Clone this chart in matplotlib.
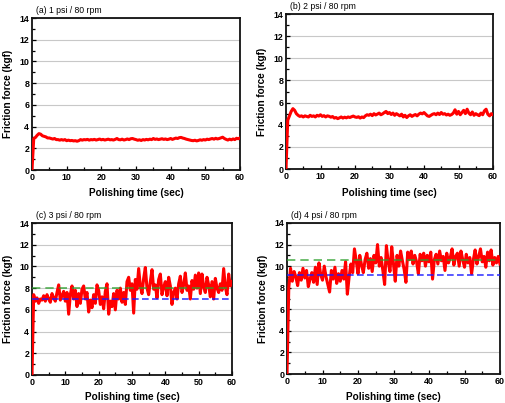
import numpy as np
import matplotlib
matplotlib.use("Agg")
import matplotlib.pyplot as plt
from matplotlib.ticker import MultipleLocator

plt.rcParams['font.family'] = ['Liberation Sans', 'DejaVu Sans']

titles = ["(a) 1 psi / 80 rpm", "(b) 2 psi / 80 rpm", "(c) 3 psi / 80 rpm", "(d) 4 psi / 80 rpm"]
xlabel = "Polishing time (sec)"
ylabel = "Friction force (kgf)"

force_a = [0, 2.9, 3.0, 3.2, 3.35, 3.3, 3.15, 3.1, 3.05, 2.95, 2.95, 2.9, 2.85, 2.9, 2.8, 2.8, 2.75, 2.8, 2.75, 2.8,
           2.7, 2.75, 2.7, 2.72, 2.68, 2.7, 2.65, 2.7, 2.8, 2.75, 2.8, 2.78, 2.82, 2.75, 2.8, 2.78, 2.82, 2.76, 2.8, 2.85,
           2.78, 2.82, 2.76, 2.8, 2.84, 2.78, 2.8, 2.76, 2.82, 2.9, 2.8, 2.78, 2.84, 2.76, 2.8, 2.86, 2.8, 2.88, 2.9, 2.84,
           2.8, 2.74, 2.78, 2.72, 2.8, 2.76, 2.82, 2.78, 2.84, 2.8, 2.9, 2.82, 2.86, 2.8, 2.84, 2.88, 2.82, 2.86, 2.8, 2.84,
           2.9, 2.82, 2.88, 2.94, 2.9, 2.98, 3.0, 2.94, 2.9, 2.84, 2.8, 2.76, 2.72, 2.7, 2.74, 2.68, 2.72, 2.78, 2.74, 2.8,
           2.76, 2.84, 2.8, 2.86, 2.9, 2.84, 2.92, 2.86, 2.9, 2.96, 3.02, 2.9, 2.82, 2.76, 2.84, 2.78, 2.86, 2.8, 2.92, 2.88,
           2.95]

force_b = [0, 4.4, 4.8, 5.2, 5.45, 5.3, 5.0, 4.85, 4.75, 4.8, 4.7, 4.8, 4.75, 4.7, 4.85, 4.75, 4.8, 4.7, 4.85, 4.78,
           4.9, 4.75, 4.82, 4.7, 4.8, 4.76, 4.68, 4.74, 4.6, 4.65, 4.55, 4.62, 4.7, 4.6, 4.68, 4.62, 4.7, 4.65, 4.72, 4.78,
           4.7, 4.66, 4.72, 4.6, 4.7, 4.64, 4.8, 4.9, 4.85, 4.95, 4.82, 5.0, 4.88, 4.96, 5.05, 4.9, 4.98, 5.1, 5.2, 5.0,
           5.1, 4.92, 5.05, 4.85, 5.0, 4.9, 4.8, 4.95, 4.7, 4.85, 4.65, 4.8, 4.9, 4.75, 4.85, 4.92, 4.8, 4.95, 5.05, 4.98,
           5.1, 4.95, 4.8, 4.75, 4.85, 4.95, 5.0, 4.9, 5.05, 4.92, 5.1, 4.95, 5.0, 4.88, 4.95, 4.85, 4.92, 5.05, 5.35, 4.95,
           5.2, 4.9, 5.1, 5.3, 5.0, 5.4, 5.05, 4.9, 5.15, 4.85, 5.0, 4.9, 4.82, 5.05, 4.9, 5.25, 5.4, 4.95, 4.8, 5.0,
           4.9]

force_c = [0, 7.4, 6.8, 7.1, 6.6, 7.0, 6.9, 7.3, 6.8, 7.4, 7.0, 6.7, 7.5, 7.1, 6.8, 7.6, 8.3, 6.9, 7.3, 7.7,
           6.8, 7.6, 5.6, 7.4, 8.2, 7.0, 7.8, 6.3, 7.5, 6.6, 7.9, 8.2, 7.0, 7.6, 5.8, 6.9, 6.2, 7.4, 6.6, 8.3,
           7.8, 6.5, 7.2, 6.1, 7.7, 8.4, 5.6, 6.8, 6.3, 7.5, 6.0, 7.8, 7.0, 8.0, 6.7, 7.6, 6.5, 8.6, 9.0, 7.8,
           8.4, 5.7, 8.8, 7.9, 9.8, 8.2, 7.5, 8.9, 9.9, 8.0, 7.4, 8.6, 9.7, 7.9, 8.3, 7.1, 8.8, 9.3, 7.4, 8.1,
           8.6, 7.3, 9.0, 8.2, 6.5, 7.6, 8.0, 7.0, 8.4, 9.1, 7.6, 8.3, 9.4, 7.8, 8.2, 7.0, 8.7, 7.9, 9.2, 8.0,
           9.4, 7.5, 9.3, 8.1, 7.6, 9.0, 8.3, 7.2, 8.6, 7.0, 8.9, 8.0, 7.6, 8.4, 7.8, 9.8, 8.1, 7.4, 9.3, 8.2,
           8.6]

force_d = [0, 8.0, 9.8, 8.6, 9.5, 9.0, 8.2, 9.4, 8.7, 9.8, 8.9, 9.6, 8.1, 8.8, 9.4, 8.5, 9.9, 8.3, 10.3, 9.2,
           8.7, 10.0, 9.0, 8.3, 7.6, 9.6, 8.8, 9.9, 8.4, 9.3, 8.6, 9.6, 8.8, 10.4, 7.4, 9.0, 10.2, 9.4, 11.6, 10.5,
           9.3, 11.0, 10.1, 9.4, 10.6, 11.2, 9.8, 10.7, 9.5, 11.0, 10.3, 12.0, 10.0, 10.8, 9.6, 8.3, 11.9, 10.4, 9.5, 11.8,
           10.2, 8.6, 11.0, 10.0, 11.4, 10.5, 9.7, 8.5, 11.3, 10.6, 11.4, 10.2, 11.0, 10.4, 9.3, 11.1, 10.5, 11.2, 10.0, 11.0,
           10.4, 11.3, 8.8, 10.6, 11.1, 10.2, 11.4, 10.5, 10.9, 9.6, 11.2, 10.3, 10.8, 11.6, 10.1, 10.9, 11.2, 10.0, 11.4, 10.6,
           9.9, 11.1, 10.3, 10.8, 9.3, 10.6, 11.5, 10.2, 10.9, 11.6, 10.4, 10.9, 9.9, 11.3, 10.5, 11.5, 10.1, 10.8, 10.3, 10.9,
           10.2]

series = [force_a, force_b, force_c, force_d]
upper_ref = [None, None, 8.0, 10.6]
lower_ref = [None, None, 7.0, 9.2]

W, H = 505, 403
boxes_px = [(32, 18, 240, 170), (286, 14, 493, 169), (32, 223, 232, 375), (287, 223, 500, 374)]
ylab_x = [8, 262, 8, 263]
xlab_y = [193, 193, 397, 397]

fig = plt.figure(figsize=(W / 100, H / 100), dpi=100)
for i, (l, t, r, b) in enumerate(boxes_px):
    ax = fig.add_axes([l / W, 1 - b / H, (r - l) / W, (b - t) / H])
    y = np.array(series[i])
    x = np.linspace(0, 60, len(y))
    ax.plot(x, y, color='#ff0000', lw=2.2, zorder=3)
    if upper_ref[i] is not None:
        ax.plot([0, 60], [upper_ref[i]] * 2, color='#2ca02c', lw=1.2, ls=(0, (5, 3)), alpha=0.8, zorder=4)
        ax.plot([0, 60], [lower_ref[i]] * 2, color='#1a1aff', lw=1.2, ls=(0, (4, 2)), alpha=0.85, zorder=4)
    ax.set_xlim(0, 60)
    ax.set_ylim(0, 14)
    ax.xaxis.set_major_locator(MultipleLocator(10))
    ax.xaxis.set_minor_locator(MultipleLocator(5))
    ax.yaxis.set_major_locator(MultipleLocator(2))
    ax.yaxis.set_minor_locator(MultipleLocator(1))
    ax.yaxis.grid(True, color='#c8c8c8', lw=0.8)
    ax.set_axisbelow(True)
    ax.tick_params(which='both', direction='in', width=0.9, labelsize=6.4, pad=2)
    ax.tick_params(which='major', length=3)
    ax.tick_params(which='minor', length=2)
    for lab in ax.get_xticklabels() + ax.get_yticklabels():
        lab.set_fontweight('bold')
    for s in ax.spines.values():
        s.set_linewidth(1.3)
        s.set_color('#111111')
    fig.text(ylab_x[i] / W, 1 - ((t + b) / 2) / H, ylabel, rotation=90, ha='center', va='center',
             fontsize=7.2, fontweight='bold')
    fig.text(((l + r) / 2) / W, 1 - xlab_y[i] / H, xlabel, ha='center', va='center',
             fontsize=7.2, fontweight='bold')
    ax.text(0.02, 1.02, titles[i], transform=ax.transAxes, ha='left', va='bottom', fontsize=6.2)

fig.savefig("out.png", dpi=100)
